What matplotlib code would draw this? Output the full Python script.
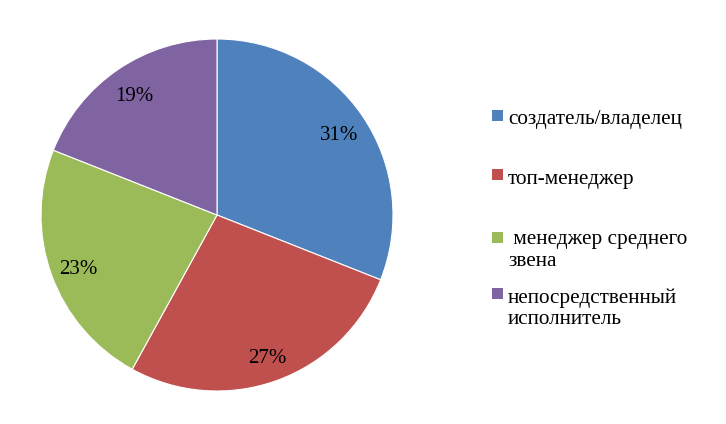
import matplotlib
matplotlib.use("Agg")
import matplotlib.pyplot as plt
from matplotlib.patches import Rectangle
from matplotlib.transforms import offset_copy

plt.rcParams['font.family'] = ['Liberation Serif', 'DejaVu Serif']

categories = ["создатель/владелец", "топ-менеджер", " менеджер среднего\nзвена", "непосредственный\nисполнитель"]
values = [31, 27, 23, 19]
colors = ["#4F81BD", "#C0504D", "#9BBB59", "#8064A2"]

W, H = 726, 424
fig = plt.figure(figsize=(W / 100, H / 100), dpi=100)
fig.patch.set_facecolor("white")

cx, cy, r = 217, 215, 176
ax = fig.add_axes([(cx - r) / W, (H - cy - r) / H, 2 * r / W, 2 * r / H])
wedges, texts, autotexts = ax.pie(
    values, colors=colors, startangle=90, counterclock=False,
    autopct=lambda p: f"{p:.0f}%", pctdistance=0.84,
    wedgeprops=dict(edgecolor="white", linewidth=0.8),
    textprops=dict(fontsize=15, color="black"))
ax.set_xlim(-1, 1)
ax.set_ylim(-1, 1)
ax.set_aspect("equal")
ax.axis("off")
for t in autotexts:
    t.set_transform(offset_copy(ax.transData, fig=fig, x=0, y=-4, units="dots"))

# legend (manual, markers aligned with first line)
baselines = [124, 184, 244, 303]
marker_centers = [115.5, 174.5, 237.5, 293.5]
line_step = 21.5
mx, msize = 492, 11
tx = 508
for cat, col, b0, mc in zip(categories, colors, baselines, marker_centers):
    fig.patches.append(Rectangle((mx / W, (H - mc - msize / 2) / H), msize / W, msize / H,
                                 transform=fig.transFigure, facecolor=col, edgecolor="none"))
    for i, line in enumerate(cat.split("\n")):
        fig.text(tx / W, (H - (b0 + i * line_step)) / H, line, fontsize=15.3,
                 va="baseline", ha="left", color="black")

fig.savefig("out.png", dpi=100, facecolor="white")
